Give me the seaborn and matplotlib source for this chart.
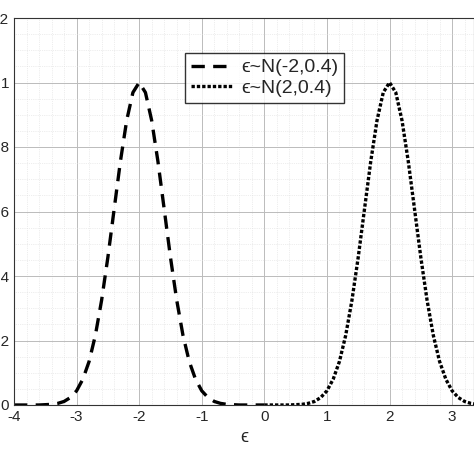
import matplotlib
matplotlib.use("Agg")
import matplotlib.pyplot as plt
import seaborn as sns

# offsets from each peak and curve heights
offsets = [-1.6, -1.5, -1.4, -1.3, -1.2, -1.1, -1.0, -0.9, -0.8, -0.7, -0.6, -0.5, -0.4, -0.3, -0.2, -0.1,
           0.0, 0.1, 0.2, 0.3, 0.4, 0.5, 0.6, 0.7, 0.8, 0.9, 1.0, 1.1, 1.2, 1.3, 1.4, 1.5, 1.6]
heights = [0.0, 0.001, 0.002, 0.005, 0.011, 0.023, 0.044, 0.080, 0.135, 0.216, 0.325, 0.458, 0.607, 0.755, 0.882, 0.969,
           1.0, 0.969, 0.882, 0.755, 0.607, 0.458, 0.325, 0.216, 0.135, 0.080, 0.044, 0.023, 0.011, 0.005, 0.002, 0.001, 0.0]
peak_left = -2
peak_right = 2
x_left = [-4.0] + [peak_left + o for o in offsets] + [0.0]
y_left = [0.0] + heights + [0.0]
x_right = [0.0] + [peak_right + o for o in offsets] + [3.6]
y_right = [0.0] + heights + [0.0]

sns.set_style("white")
plt.rcParams['font.family'] = ['Liberation Sans', 'DejaVu Sans']
plt.rcParams['axes.unicode_minus'] = False

fig = plt.figure(figsize=(4.74, 4.74), dpi=100)
ax = fig.add_axes([14/474, 69/474, 460/474, 387/474])

sns.lineplot(x=x_left, y=y_left, ax=ax, color="black", lw=2.4, linestyle=(0, (4, 2.5)),
             label="\u03f5~N(-2,0.4)")
sns.lineplot(x=x_right, y=y_right, ax=ax, color="black", lw=2.4, linestyle=(0, (1, 0.6)),
             label="\u03f5~N(2,0.4)")

ax.set_xlim(-4, 3.35)
ax.set_ylim(0, 1.2)
ax.set_xticks([-4, -3, -2, -1, 0, 1, 2, 3])
ax.set_yticks([0, 0.2, 0.4, 0.6, 0.8, 1.0, 1.2])
ax.set_yticklabels(["0", "0.2", "0.4", "0.6", "0.8", "1", "1.2"])
ax.minorticks_on()
ax.grid(which="major", color="#bbbbbb", lw=0.7)
ax.grid(which="minor", color="#dddddd", lw=0.5, linestyle=":")
ax.tick_params(labelsize=11, direction="in", which="both")
for s in ax.spines.values():
    s.set_color("#333333")
ax.set_xlabel("\u03f5", fontsize=13)

leg = ax.legend(loc="upper left", bbox_to_anchor=(0.35, 0.935), fontsize=14, frameon=True,
                fancybox=False, edgecolor="black", handlelength=2.2, borderpad=0.3,
                labelspacing=0.15, handletextpad=0.4)
leg.get_frame().set_linewidth(1.0)

fig.savefig("out.png", dpi=100)
